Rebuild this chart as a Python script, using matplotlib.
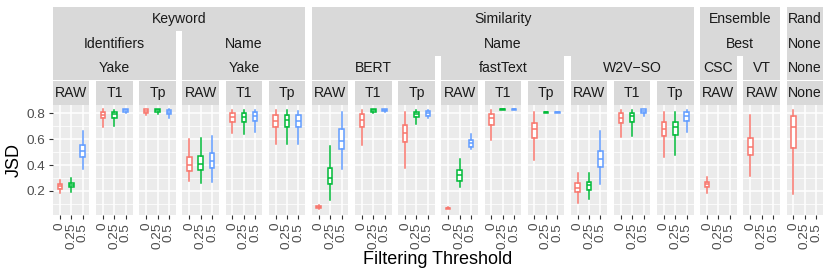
import matplotlib
matplotlib.use("Agg")
import matplotlib.pyplot as plt
from matplotlib.patches import Rectangle

plt.rcParams["font.family"] = ["Liberation Sans", "DejaVu Sans"]

thresholds = ["0", "0.25", "0.5"]
colors = ["#F8766D", "#00BA38", "#619CFF"]

# nested facet labels, one entry per panel
level1 = ["Keyword"] * 6 + ["Similarity"] * 9 + ["Ensemble"] * 2 + ["Rand"]
level2 = ["Identifiers"] * 3 + ["Name"] * 3 + ["Name"] * 9 + ["Best"] * 2 + ["None"]
level3 = (["Yake"] * 6 + ["BERT"] * 3 + ["fastText"] * 3 + ["W2V\u2212SO"] * 3
          + ["CSC", "VT", "None"])
level4 = ["RAW", "T1", "Tp"] * 5 + ["RAW", "RAW", "None"]

# box stats per panel, per threshold (0, 0.25, 0.5); None = no data
whislo = [
  [.187, .195, .37], [.695, .70, .80], [.785, .79, .76],
  [.28, .264, .272], [.644, .636, .656], [.56, .56, .56],
  [.065, .13, .367], [.554, .80, .81], [.38, .715, .76],
  [.058, .233, .523], [.592, .823, .823], [.44, .80, .80],
  [.11, .135, .25], [.613, .626, .777], [.46, .48, .656],
  [.187, None, None], [.318, None, None], [.175, None, None],
]
q1 = [
  [.215, .228, .464], [.765, .765, .81], [.80, .805, .795],
  [.35, .362, .38], [.733, .733, .74], [.69, .69, .69],
  [.072, .25, .52], [.69, .81, .815], [.575, .77, .78],
  [.062, .28, .54], [.708, .826, .826], [.605, .803, .803],
  [.19, .21, .387], [.72, .73, .80], [.62, .63, .74],
  [.23, None, None], [.477, None, None], [.53, None, None],
]
med = [
  [.235, .245, .51], [.785, .79, .82], [.815, .82, .81],
  [.40, .41, .43], [.77, .77, .775], [.74, .745, .74],
  [.08, .30, .587], [.746, .82, .82], [.65, .795, .80],
  [.067, .32, .57], [.76, .828, .828], [.675, .805, .805],
  [.225, .245, .45], [.76, .78, .815], [.68, .695, .78],
  [.25, None, None], [.54, None, None], [.695, None, None],
]
q3 = [
  [.253, .264, .554], [.81, .81, .83], [.83, .83, .825],
  [.464, .47, .49], [.80, .80, .805], [.785, .785, .785],
  [.088, .38, .68], [.79, .83, .828], [.71, .81, .815],
  [.072, .362, .59], [.792, .832, .832], [.725, .808, .808],
  [.26, .267, .51], [.80, .80, .83], [.73, .733, .805],
  [.27, None, None], [.605, None, None], [.777, None, None],
]
whishi = [
  [.285, .30, .664], [.83, .823, .835], [.835, .835, .835],
  [.60, .605, .625], [.823, .823, .823], [.823, .823, .818],
  [.095, .55, .81], [.823, .833, .832], [.805, .823, .823],
  [.076, .446, .636], [.823, .835, .835], [.805, .81, .81],
  [.336, .336, .664], [.823, .823, .835], [.805, .805, .823],
  [.31, None, None], [.785, None, None], [.823, None, None],
]

W, H = 830, 277
fig = plt.figure(figsize=(W / 100, H / 100), dpi=100)
x0, pw, gap = 53, 36.45, 6.7
top, bot = 105, 215
strip_top, strip_h = 7, 24.5
n = len(level4)


def px_rect(l, t, w, h):
  return [l / W, 1 - (t + h) / H, w / W, h / H]


for i in range(n):
  ax = fig.add_axes(px_rect(x0 + i * (pw + gap), top, pw, bot - top))
  ax.set_facecolor("#EBEBEB")
  for s in ax.spines.values():
    s.set_visible(False)
  for k in range(3):
    if med[i][k] is None:
      continue
    st = dict(whislo=whislo[i][k], q1=q1[i][k], med=med[i][k],
              q3=q3[i][k], whishi=whishi[i][k], fliers=[])
    c = colors[k]
    ax.bxp([st], positions=[k + 1], widths=0.4, patch_artist=True,
           showcaps=False, showfliers=False, manage_ticks=False,
           boxprops=dict(facecolor="white", edgecolor=c, linewidth=1.1),
           whiskerprops=dict(color=c, linewidth=1.1),
           medianprops=dict(color=c, linewidth=1.1))
  ax.set_xlim(0.4, 3.6)
  ax.set_ylim(0.015, 0.862)
  ax.set_xticks([1, 2, 3])
  ax.set_xticklabels(thresholds, rotation=90)
  ax.set_yticks([0.2, 0.4, 0.6, 0.8])
  ax.set_yticklabels(["0.2", "0.4", "0.6", "0.8"])
  ax.set_yticks([0.1, 0.3, 0.5, 0.7], minor=True)
  ax.set_axisbelow(True)
  ax.grid(which="major", color="white", linewidth=1.1)
  ax.grid(which="minor", axis="y", color="white", linewidth=0.55)
  ax.tick_params(which="minor", length=0)
  ax.tick_params(which="major", length=3.2, width=0.8, color="#333333",
                 labelsize=9.7, labelcolor="#4D4D4D", pad=2.5)
  if i > 0:
    ax.tick_params(axis="y", left=False, labelleft=False)

# nested strips: merge neighbours that share the same label path
levels = [level1, level2, level3, level4]
for L, labels in enumerate(levels):
  keys = [tuple(lv[i] for lv in levels[:L + 1]) for i in range(n)]
  start = 0
  for i in range(1, n + 1):
    if i == n or keys[i] != keys[start]:
      left = x0 + start * (pw + gap)
      right = x0 + (i - 1) * (pw + gap) + pw
      t = strip_top + L * strip_h
      fig.add_artist(Rectangle((left / W, 1 - (t + strip_h - 0.4) / H),
                               (right - left) / W, (strip_h - 0.4) / H,
                               transform=fig.transFigure,
                               facecolor="#D9D9D9", edgecolor="none"))
      fig.text((left + right) / 2 / W, 1 - (t + strip_h / 2) / H, labels[start],
               ha="center", va="center", fontsize=10.1, color="#1A1A1A")
      start = i

fig.text(438 / W, 1 - 259 / H, "Filtering Threshold", ha="center",
         va="center", fontsize=13)
fig.text(14 / W, 1 - 160 / H, "JSD", ha="center", va="center",
         rotation=90, fontsize=13)

fig.savefig("out.png", dpi=100)
